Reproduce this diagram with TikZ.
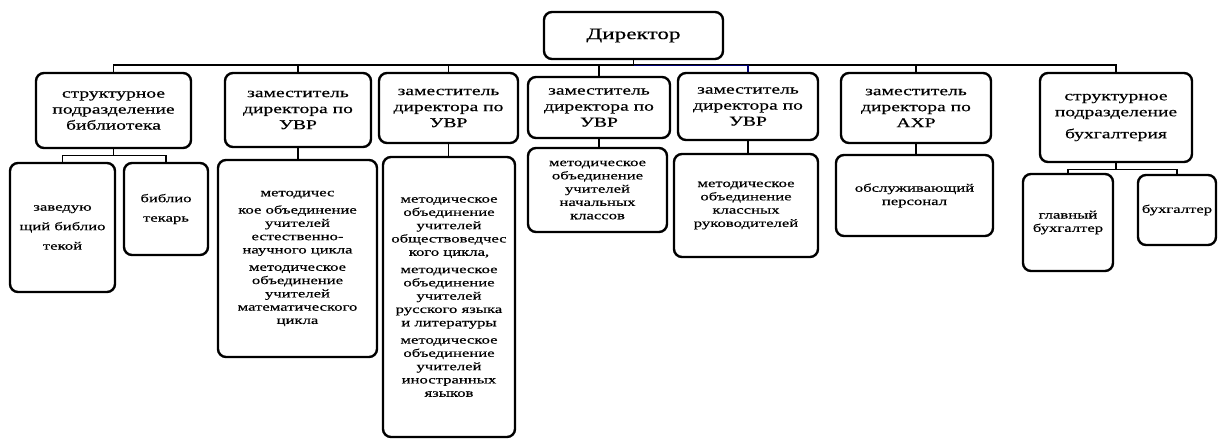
\documentclass[tikz,border=0pt]{standalone}
\usepackage{fontspec}
\setmainfont[FakeStretch=1.45,FakeBold=0.5]{Liberation Serif}
\newcommand{\topfont}{\fontsize{13.5}{16}\selectfont}
\newcommand{\lowfont}{\fontsize{11.5}{13.3}\selectfont}
\tikzset{
  unit/.style={draw, line width=2.4pt, rounded corners=8pt, align=center, inner sep=0pt, font=\topfont},
  sub/.style={unit, font=\lowfont},
  link/.style={line width=1.1pt}
}
\begin{document}
\begin{tikzpicture}[x=1pt,y=1pt,yscale=-1]
\useasboundingbox (0,0) rectangle (1219,439);
% top level
\node[unit, minimum width=179, minimum height=47, font=\fontsize{16}{18}\selectfont] (dir) at (633.5,35.5) {Директор};
\node[unit, minimum width=155, minimum height=75] (b1) at (113.5,110.5) {структурное\\подразделение\\библиотека};
\node[unit, minimum width=146, minimum height=74] (b2) at (298,110) {заместитель\\директора по\\УВР};
\node[unit, minimum width=139, minimum height=70] (b3) at (448.5,108) {заместитель\\директора по\\УВР};
\node[unit, minimum width=142, minimum height=61] (b4) at (599,107.5) {заместитель\\директора по\\УВР};
\node[unit, minimum width=140, minimum height=67] (b5) at (748,106.5) {заместитель\\директора по\\УВР};
\node[unit, minimum width=150, minimum height=70] (b6) at (916,108) {заместитель\\директора по\\АХР};
\node[unit, minimum width=152, minimum height=89] (b7) at (1116,117.5) {структурное\\подразделение\\[6pt]бухгалтерия};
% second level
\node[sub, minimum width=105, minimum height=129, font=\fontsize{11.5}{19.5}\selectfont] (c1a) at (62.5,227.5) {заведую\\щий библио\\текой};
\node[sub, minimum width=84, minimum height=92, font=\fontsize{11.5}{19.5}\selectfont] (c1b) at (166,209) {библио\\текарь};
\node[sub, minimum width=159, minimum height=197] (c2) at (297.5,258.5) {методичес\\[4pt]кое объединение\\учителей\\естественно-\\научного цикла\\[4pt]методическое\\объединение\\учителей\\математического\\цикла};
\node[sub, minimum width=132, minimum height=280] (c3) at (449,297) {методическое\\объединение\\учителей\\обществоведчес\\кого цикла,\\[4pt]методическое\\объединение\\учителей\\русского языка\\и литературы\\[4pt]методическое\\объединение\\учителей\\иностранных\\языков};
\node[sub, minimum width=139, minimum height=84] (c4) at (597.5,190) {методическое\\объединение\\учителей\\начальных\\классов};
\node[sub, minimum width=144, minimum height=103] (c5) at (746,205.5) {методическое\\объединение\\классных\\руководителей};
\node[sub, minimum width=157, minimum height=81] (c6) at (914.5,195.5) {обслуживающий\\персонал};
\node[sub, minimum width=90, minimum height=97] (c7a) at (1068,222.5) {главный\\бухгалтер};
\node[sub, minimum width=78, minimum height=70] (c7b) at (1177,210) {бухгалтер};
% connectors
\coordinate (bus) at (633.5,65);
\draw[link] (b1.north) |- (bus) -| (b7.north);
\draw[link] (dir.south) -- (bus);
\foreach \n in {b2,b3,b4,b5,b6}
  \draw[link] (\n.north) -- (\n.north |- bus);
\draw[link, draw=blue!45!black] (dir.south |- b5.north) ++(0,-6) -| (b5.north);
\draw[link] (b1.south) -- ++(0,6) -| (c1a.north);
\draw[link] (b1.south) ++(0,6) -| (c1b.north);
\draw[link] (b7.south) -- ++(0,6) -| (c7a.north);
\draw[link] (b7.south) ++(0,6) -| (c7b.north);
\foreach \n in {2,...,6}
  \draw[link] (b\n.south) -- (b\n.south |- c\n.north);
\end{tikzpicture}
\end{document}
